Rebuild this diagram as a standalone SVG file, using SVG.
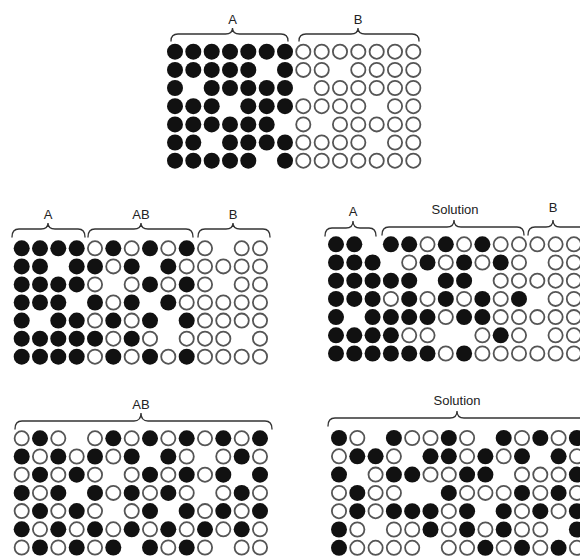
<svg xmlns="http://www.w3.org/2000/svg" xmlns:xlink="http://www.w3.org/1999/xlink" width="580" height="560" viewBox="0 0 580 560">
<style>
text{font-family:"Liberation Sans",Arial,sans-serif;font-size:13px;fill:#222;text-anchor:middle}
.brace{fill:none;stroke:#333;stroke-width:1.3;stroke-linecap:round}
</style>
<defs>
<circle id="f" r="8" fill="#111"/>
<circle id="o" r="7.1" fill="#fff" stroke="#555" stroke-width="1.8"/>
</defs>
<rect width="580" height="560" fill="#fff"/>

<g id="connectors">
<path class="brace" d="M171 41 Q171 34 178 34 H225.5 Q232.5 34 232.5 28 Q232.5 34 239.5 34 H281 Q288 34 288 41"/>
<path class="brace" d="M299 41 Q299 34 306 34 H351 Q358 34 358 28 Q358 34 365 34 H412 Q419 34 419 41"/>
<path class="brace" d="M12 237 Q12 229 19 229 H41 Q48 229 48 223 Q48 229 55 229 H78 Q85 229 85 237"/>
<path class="brace" d="M88 237 Q88 229 95 229 H134 Q141 229 141 223 Q141 229 148 229 H186 Q193 229 193 237"/>
<path class="brace" d="M198 237 Q198 229 205 229 H226 Q233 229 233 223 Q233 229 240 229 H263 Q270 229 270 237"/>
<path class="brace" d="M325 236 Q325 228 332 228 H346 Q353 228 353 221 Q353 228 360 228 H369 Q376 228 376 236"/>
<path class="brace" d="M382 235 Q382 227 389 227 H447 Q454 227 454 220 Q454 227 461 227 H517 Q524 227 524 235"/>
<path class="brace" d="M528 235 Q528 227 535 227 H546 Q553 227 553 220 Q553 227 560 227 H600"/>
<path class="brace" d="M15 429 Q15 421 22 421 H134 Q141 421 141 413 Q141 421 148 421 H265 Q272 421 272 429"/>
<path class="brace" d="M328 426 Q328 418 335 418 H450 Q457 418 457 411 Q457 418 464 418 H600"/>
</g>

<g id="labels">
<text x="232.5" y="24">A</text>
<text x="358" y="24">B</text>
<text x="48" y="219">A</text>
<text x="141" y="219">AB</text>
<text x="233" y="219">B</text>
<text x="353" y="216">A</text>
<text x="455" y="214">Solution</text>
<text x="553" y="212">B</text>
<text x="141" y="409">AB</text>
<text x="457" y="405">Solution</text>
</g>

<g id="panel-top">
<g transform="translate(0,51.7)"><use href="#f" x="175"/><use href="#f" x="193.3"/><use href="#f" x="211.7"/><use href="#f" x="230"/><use href="#f" x="248.3"/><use href="#f" x="266.7"/><use href="#f" x="285"/><use href="#o" x="303.3"/><use href="#o" x="321.7"/><use href="#o" x="340"/><use href="#o" x="358.3"/><use href="#o" x="376.7"/><use href="#o" x="395"/><use href="#o" x="413.3"/></g>
<g transform="translate(0,69.9)"><use href="#f" x="175"/><use href="#f" x="193.3"/><use href="#f" x="211.7"/><use href="#f" x="230"/><use href="#f" x="248.3"/><use href="#f" x="285"/><use href="#o" x="303.3"/><use href="#o" x="321.7"/><use href="#o" x="358.3"/><use href="#o" x="376.7"/><use href="#o" x="395"/><use href="#o" x="413.3"/></g>
<g transform="translate(0,88)"><use href="#f" x="175"/><use href="#f" x="211.7"/><use href="#f" x="230"/><use href="#f" x="248.3"/><use href="#f" x="266.7"/><use href="#f" x="285"/><use href="#o" x="321.7"/><use href="#o" x="340"/><use href="#o" x="358.3"/><use href="#o" x="376.7"/><use href="#o" x="395"/><use href="#o" x="413.3"/></g>
<g transform="translate(0,106.2)"><use href="#f" x="175"/><use href="#f" x="193.3"/><use href="#f" x="211.7"/><use href="#f" x="248.3"/><use href="#f" x="266.7"/><use href="#f" x="285"/><use href="#o" x="303.3"/><use href="#o" x="321.7"/><use href="#o" x="340"/><use href="#o" x="358.3"/><use href="#o" x="395"/><use href="#o" x="413.3"/></g>
<g transform="translate(0,124.4)"><use href="#f" x="175"/><use href="#f" x="193.3"/><use href="#f" x="211.7"/><use href="#f" x="230"/><use href="#f" x="248.3"/><use href="#f" x="266.7"/><use href="#o" x="303.3"/><use href="#o" x="340"/><use href="#o" x="358.3"/><use href="#o" x="376.7"/><use href="#o" x="395"/><use href="#o" x="413.3"/></g>
<g transform="translate(0,142.5)"><use href="#f" x="175"/><use href="#f" x="193.3"/><use href="#f" x="230"/><use href="#f" x="248.3"/><use href="#f" x="266.7"/><use href="#f" x="285"/><use href="#o" x="303.3"/><use href="#o" x="321.7"/><use href="#o" x="340"/><use href="#o" x="358.3"/><use href="#o" x="395"/><use href="#o" x="413.3"/></g>
<g transform="translate(0,160.7)"><use href="#f" x="175"/><use href="#f" x="193.3"/><use href="#f" x="211.7"/><use href="#f" x="230"/><use href="#f" x="248.3"/><use href="#f" x="285"/><use href="#o" x="303.3"/><use href="#o" x="321.7"/><use href="#o" x="340"/><use href="#o" x="358.3"/><use href="#o" x="376.7"/><use href="#o" x="395"/><use href="#o" x="413.3"/></g>
</g>

<g id="panel-middle-left">
<g transform="translate(0,248.3)"><use href="#f" x="21.7"/><use href="#f" x="40"/><use href="#f" x="58.3"/><use href="#f" x="76.7"/><use href="#o" x="95"/><use href="#f" x="113.3"/><use href="#o" x="131.7"/><use href="#f" x="150"/><use href="#o" x="168.3"/><use href="#f" x="186.7"/><use href="#o" x="205"/><use href="#o" x="241.7"/><use href="#o" x="260"/></g>
<g transform="translate(0,266.4)"><use href="#f" x="21.7"/><use href="#f" x="40"/><use href="#f" x="76.7"/><use href="#f" x="95"/><use href="#o" x="113.3"/><use href="#f" x="131.7"/><use href="#f" x="168.3"/><use href="#o" x="186.7"/><use href="#o" x="205"/><use href="#o" x="223.3"/><use href="#o" x="241.7"/><use href="#o" x="260"/></g>
<g transform="translate(0,284.4)"><use href="#f" x="21.7"/><use href="#f" x="40"/><use href="#f" x="58.3"/><use href="#f" x="76.7"/><use href="#o" x="95"/><use href="#o" x="131.7"/><use href="#f" x="150"/><use href="#o" x="168.3"/><use href="#f" x="186.7"/><use href="#o" x="205"/><use href="#o" x="241.7"/><use href="#o" x="260"/></g>
<g transform="translate(0,302.5)"><use href="#f" x="21.7"/><use href="#f" x="40"/><use href="#f" x="58.3"/><use href="#f" x="95"/><use href="#o" x="113.3"/><use href="#f" x="131.7"/><use href="#f" x="168.3"/><use href="#o" x="186.7"/><use href="#o" x="205"/><use href="#o" x="223.3"/><use href="#o" x="241.7"/><use href="#o" x="260"/></g>
<g transform="translate(0,320.6)"><use href="#f" x="21.7"/><use href="#f" x="58.3"/><use href="#f" x="76.7"/><use href="#o" x="95"/><use href="#f" x="113.3"/><use href="#o" x="131.7"/><use href="#f" x="150"/><use href="#f" x="186.7"/><use href="#o" x="205"/><use href="#o" x="223.3"/><use href="#o" x="241.7"/><use href="#o" x="260"/></g>
<g transform="translate(0,338.7)"><use href="#f" x="21.7"/><use href="#f" x="40"/><use href="#f" x="58.3"/><use href="#f" x="76.7"/><use href="#f" x="95"/><use href="#o" x="113.3"/><use href="#f" x="131.7"/><use href="#o" x="150"/><use href="#o" x="186.7"/><use href="#o" x="205"/><use href="#o" x="223.3"/><use href="#o" x="260"/></g>
<g transform="translate(0,356.7)"><use href="#f" x="21.7"/><use href="#f" x="40"/><use href="#f" x="58.3"/><use href="#f" x="76.7"/><use href="#o" x="95"/><use href="#f" x="113.3"/><use href="#o" x="131.7"/><use href="#f" x="150"/><use href="#o" x="168.3"/><use href="#f" x="186.7"/><use href="#o" x="205"/><use href="#o" x="223.3"/><use href="#o" x="241.7"/><use href="#o" x="260"/></g>
</g>

<g id="panel-middle-right">
<g transform="translate(0,244.3)"><use href="#f" x="336"/><use href="#f" x="354.3"/><use href="#f" x="390.9"/><use href="#f" x="409.2"/><use href="#o" x="427.5"/><use href="#f" x="445.8"/><use href="#o" x="464.1"/><use href="#f" x="482.4"/><use href="#o" x="500.7"/><use href="#o" x="519"/><use href="#o" x="537.3"/><use href="#o" x="555.6"/><use href="#o" x="573.9"/></g>
<g transform="translate(0,262.5)"><use href="#f" x="336"/><use href="#f" x="354.3"/><use href="#f" x="372.6"/><use href="#o" x="409.2"/><use href="#f" x="427.5"/><use href="#o" x="445.8"/><use href="#f" x="464.1"/><use href="#o" x="482.4"/><use href="#f" x="500.7"/><use href="#o" x="519"/><use href="#o" x="555.6"/><use href="#o" x="573.9"/></g>
<g transform="translate(0,280.7)"><use href="#f" x="336"/><use href="#f" x="354.3"/><use href="#f" x="372.6"/><use href="#f" x="390.9"/><use href="#f" x="409.2"/><use href="#f" x="445.8"/><use href="#f" x="464.1"/><use href="#o" x="500.7"/><use href="#o" x="519"/><use href="#o" x="537.3"/><use href="#o" x="555.6"/><use href="#o" x="573.9"/></g>
<g transform="translate(0,298.9)"><use href="#f" x="336"/><use href="#f" x="354.3"/><use href="#f" x="372.6"/><use href="#o" x="390.9"/><use href="#f" x="409.2"/><use href="#o" x="427.5"/><use href="#f" x="445.8"/><use href="#o" x="464.1"/><use href="#f" x="482.4"/><use href="#o" x="500.7"/><use href="#f" x="519"/><use href="#o" x="555.6"/><use href="#o" x="573.9"/></g>
<g transform="translate(0,317.1)"><use href="#f" x="336"/><use href="#f" x="372.6"/><use href="#f" x="390.9"/><use href="#f" x="409.2"/><use href="#f" x="427.5"/><use href="#o" x="445.8"/><use href="#f" x="464.1"/><use href="#f" x="482.4"/><use href="#o" x="500.7"/><use href="#o" x="519"/><use href="#o" x="537.3"/><use href="#o" x="555.6"/><use href="#o" x="573.9"/></g>
<g transform="translate(0,335.3)"><use href="#f" x="336"/><use href="#f" x="354.3"/><use href="#f" x="372.6"/><use href="#f" x="390.9"/><use href="#o" x="409.2"/><use href="#o" x="427.5"/><use href="#o" x="482.4"/><use href="#f" x="500.7"/><use href="#o" x="519"/><use href="#o" x="555.6"/><use href="#o" x="573.9"/></g>
<g transform="translate(0,353.5)"><use href="#f" x="336"/><use href="#f" x="354.3"/><use href="#f" x="372.6"/><use href="#f" x="390.9"/><use href="#f" x="409.2"/><use href="#f" x="427.5"/><use href="#o" x="445.8"/><use href="#f" x="464.1"/><use href="#o" x="482.4"/><use href="#o" x="500.7"/><use href="#o" x="519"/><use href="#o" x="537.3"/><use href="#o" x="555.6"/><use href="#o" x="573.9"/></g>
</g>

<g id="panel-bottom-left">
<g transform="translate(0,438.3)"><use href="#o" x="21.7"/><use href="#f" x="40"/><use href="#o" x="58.3"/><use href="#o" x="95"/><use href="#f" x="113.3"/><use href="#o" x="131.7"/><use href="#f" x="150"/><use href="#o" x="168.3"/><use href="#f" x="186.7"/><use href="#o" x="205"/><use href="#f" x="223.3"/><use href="#o" x="241.7"/><use href="#f" x="260"/></g>
<g transform="translate(0,456.5)"><use href="#f" x="21.7"/><use href="#o" x="40"/><use href="#f" x="58.3"/><use href="#o" x="76.7"/><use href="#f" x="95"/><use href="#o" x="113.3"/><use href="#f" x="131.7"/><use href="#f" x="168.3"/><use href="#o" x="186.7"/><use href="#o" x="223.3"/><use href="#f" x="241.7"/><use href="#o" x="260"/></g>
<g transform="translate(0,474.7)"><use href="#o" x="21.7"/><use href="#f" x="40"/><use href="#o" x="58.3"/><use href="#f" x="76.7"/><use href="#o" x="95"/><use href="#o" x="131.7"/><use href="#f" x="150"/><use href="#o" x="168.3"/><use href="#f" x="186.7"/><use href="#o" x="205"/><use href="#f" x="223.3"/><use href="#f" x="260"/></g>
<g transform="translate(0,492.9)"><use href="#f" x="21.7"/><use href="#o" x="40"/><use href="#f" x="58.3"/><use href="#f" x="95"/><use href="#o" x="113.3"/><use href="#f" x="131.7"/><use href="#o" x="150"/><use href="#f" x="168.3"/><use href="#o" x="186.7"/><use href="#o" x="223.3"/><use href="#f" x="241.7"/><use href="#o" x="260"/></g>
<g transform="translate(0,511.1)"><use href="#o" x="21.7"/><use href="#f" x="40"/><use href="#o" x="58.3"/><use href="#f" x="76.7"/><use href="#o" x="95"/><use href="#o" x="131.7"/><use href="#f" x="150"/><use href="#f" x="186.7"/><use href="#o" x="205"/><use href="#f" x="223.3"/><use href="#o" x="241.7"/><use href="#f" x="260"/></g>
<g transform="translate(0,529.3)"><use href="#f" x="21.7"/><use href="#o" x="40"/><use href="#f" x="58.3"/><use href="#o" x="76.7"/><use href="#f" x="95"/><use href="#o" x="113.3"/><use href="#f" x="131.7"/><use href="#o" x="150"/><use href="#f" x="168.3"/><use href="#o" x="186.7"/><use href="#f" x="205"/><use href="#o" x="223.3"/><use href="#f" x="241.7"/><use href="#o" x="260"/></g>
<g transform="translate(0,547.5)"><use href="#o" x="21.7"/><use href="#f" x="40"/><use href="#o" x="58.3"/><use href="#f" x="76.7"/><use href="#o" x="95"/><use href="#f" x="113.3"/><use href="#f" x="150"/><use href="#o" x="168.3"/><use href="#f" x="186.7"/><use href="#o" x="205"/><use href="#o" x="241.7"/><use href="#o" x="260"/></g>
</g>

<g id="panel-bottom-right">
<g transform="translate(0,438)"><use href="#f" x="339"/><use href="#o" x="357.3"/><use href="#f" x="393.9"/><use href="#o" x="412.2"/><use href="#o" x="430.5"/><use href="#f" x="448.8"/><use href="#o" x="467.1"/><use href="#f" x="503.7"/><use href="#o" x="522"/><use href="#f" x="540.3"/><use href="#o" x="558.6"/><use href="#f" x="576.9"/></g>
<g transform="translate(0,456.3)"><use href="#o" x="339"/><use href="#f" x="357.3"/><use href="#f" x="375.6"/><use href="#o" x="393.9"/><use href="#f" x="430.5"/><use href="#f" x="448.8"/><use href="#o" x="467.1"/><use href="#f" x="485.4"/><use href="#o" x="503.7"/><use href="#f" x="522"/><use href="#f" x="558.6"/><use href="#o" x="576.9"/></g>
<g transform="translate(0,474.6)"><use href="#f" x="339"/><use href="#o" x="375.6"/><use href="#f" x="393.9"/><use href="#f" x="412.2"/><use href="#o" x="430.5"/><use href="#o" x="448.8"/><use href="#f" x="467.1"/><use href="#f" x="485.4"/><use href="#o" x="522"/><use href="#o" x="540.3"/><use href="#o" x="558.6"/><use href="#f" x="576.9"/></g>
<g transform="translate(0,492.9)"><use href="#o" x="339"/><use href="#f" x="357.3"/><use href="#o" x="375.6"/><use href="#o" x="393.9"/><use href="#f" x="448.8"/><use href="#o" x="467.1"/><use href="#o" x="485.4"/><use href="#o" x="503.7"/><use href="#f" x="522"/><use href="#o" x="540.3"/><use href="#f" x="558.6"/><use href="#o" x="576.9"/></g>
<g transform="translate(0,511.2)"><use href="#o" x="339"/><use href="#f" x="357.3"/><use href="#o" x="375.6"/><use href="#f" x="393.9"/><use href="#f" x="412.2"/><use href="#f" x="430.5"/><use href="#o" x="448.8"/><use href="#f" x="467.1"/><use href="#f" x="503.7"/><use href="#o" x="522"/><use href="#f" x="540.3"/><use href="#o" x="558.6"/><use href="#f" x="576.9"/></g>
<g transform="translate(0,529.5)"><use href="#f" x="339"/><use href="#o" x="357.3"/><use href="#o" x="393.9"/><use href="#o" x="412.2"/><use href="#f" x="430.5"/><use href="#o" x="448.8"/><use href="#f" x="467.1"/><use href="#o" x="485.4"/><use href="#f" x="503.7"/><use href="#o" x="522"/><use href="#o" x="540.3"/><use href="#f" x="576.9"/></g>
<g transform="translate(0,547.8)"><use href="#f" x="339"/><use href="#o" x="357.3"/><use href="#o" x="375.6"/><use href="#o" x="393.9"/><use href="#o" x="412.2"/><use href="#o" x="448.8"/><use href="#o" x="467.1"/><use href="#f" x="485.4"/><use href="#o" x="503.7"/><use href="#f" x="522"/><use href="#o" x="540.3"/><use href="#f" x="558.6"/><use href="#o" x="576.9"/></g>
</g>
</svg>
